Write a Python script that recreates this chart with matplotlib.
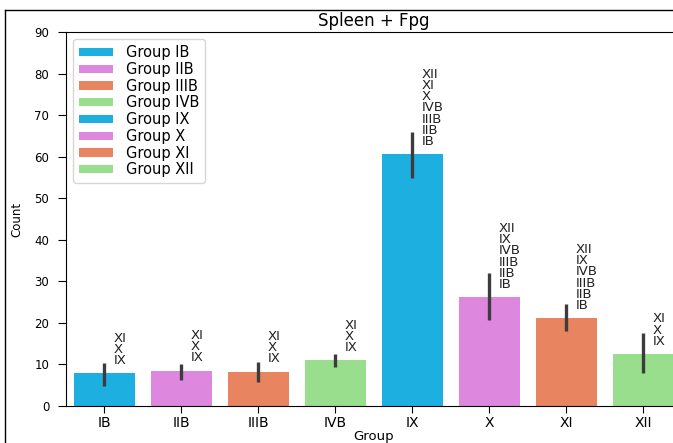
import matplotlib
matplotlib.use("Agg")
import matplotlib.pyplot as plt
from matplotlib.patches import Patch
from matplotlib.lines import Line2D

# Group means with the lower / upper bounds of their confidence intervals
groups = ["IB", "IIB", "IIIB", "IVB", "IX", "X", "XI", "XII"]
means = [7.9, 8.5, 8.3, 11.0, 60.6, 26.2, 21.1, 12.5]
ci_low = [4.9, 6.3, 5.8, 9.3, 54.9, 20.7, 18.0, 8.0]
ci_high = [10.4, 10.1, 10.7, 12.4, 65.9, 32.1, 24.5, 17.5]

# Groups each bar differs from significantly
sig_groups = [
    ["IX", "X", "XI"],
    ["IX", "X", "XI"],
    ["IX", "X", "XI"],
    ["IX", "X", "XI"],
    ["IB", "IIB", "IIIB", "IVB", "X", "XI", "XII"],
    ["IB", "IIB", "IIIB", "IVB", "IX", "XII"],
    ["IB", "IIB", "IIIB", "IVB", "IX", "XII"],
    ["IX", "X", "XI"],
]

palette = ["#1eafe1", "#de87de", "#e88460", "#98de8c"]
colors = [palette[i % 4] for i in range(len(groups))]

fig = plt.figure(figsize=(6.73, 4.43), dpi=100)
ax = fig.add_axes([0.098, 0.0835, 0.9153, 0.8442])

x = list(range(len(groups)))
ax.bar(x, means, width=0.8, color=colors, zorder=2)
for xi, lo, hi in zip(x, ci_low, ci_high):
    ax.plot([xi, xi], [lo, hi], color="#3c3c3c", lw=2.4, solid_capstyle="butt", zorder=3)

for xi, m, labs in zip(x, means, sig_groups):
    ax.text(xi + 0.12, m + 1.5, "\n".join(reversed(labs)), ha="left", va="bottom",
            fontsize=9.5, linespacing=0.82, color="#222222", zorder=4)

ax.set_xlim(-0.5, len(groups) - 0.5)
ax.set_ylim(0, 90)
ax.set_yticks(range(0, 91, 10))
ax.set_xticks(x)
ax.set_xticklabels(groups)
ax.tick_params(axis="x", labelsize=10, length=5, pad=2)
ax.tick_params(axis="y", labelsize=8.5, length=6, pad=6)
ax.set_xlabel("Group", fontsize=9.5, labelpad=0)
ax.set_ylabel("Count", fontsize=8.5, labelpad=8)
ax.set_title("Spleen + Fpg", fontsize=12, pad=4)

handles = [Patch(facecolor=c, edgecolor="none") for c in colors]
ax.legend(handles, ["Group " + g for g in groups], loc="upper left", fontsize=10.5,
          labelspacing=0.12, handlelength=2.3, handleheight=0.5, handletextpad=0.9,
          borderaxespad=0.5, framealpha=0.8)

# thin frame lines along the top and left of the figure
top_y = 1 - 9.5 / 443
left_x = 4.5 / 673
fig.add_artist(Line2D([left_x, 1.0], [top_y, top_y], transform=fig.transFigure,
                      color="black", lw=1.0))
fig.add_artist(Line2D([left_x, left_x], [0.0, top_y], transform=fig.transFigure,
                      color="black", lw=1.0))

fig.savefig("out.png", dpi=100)
